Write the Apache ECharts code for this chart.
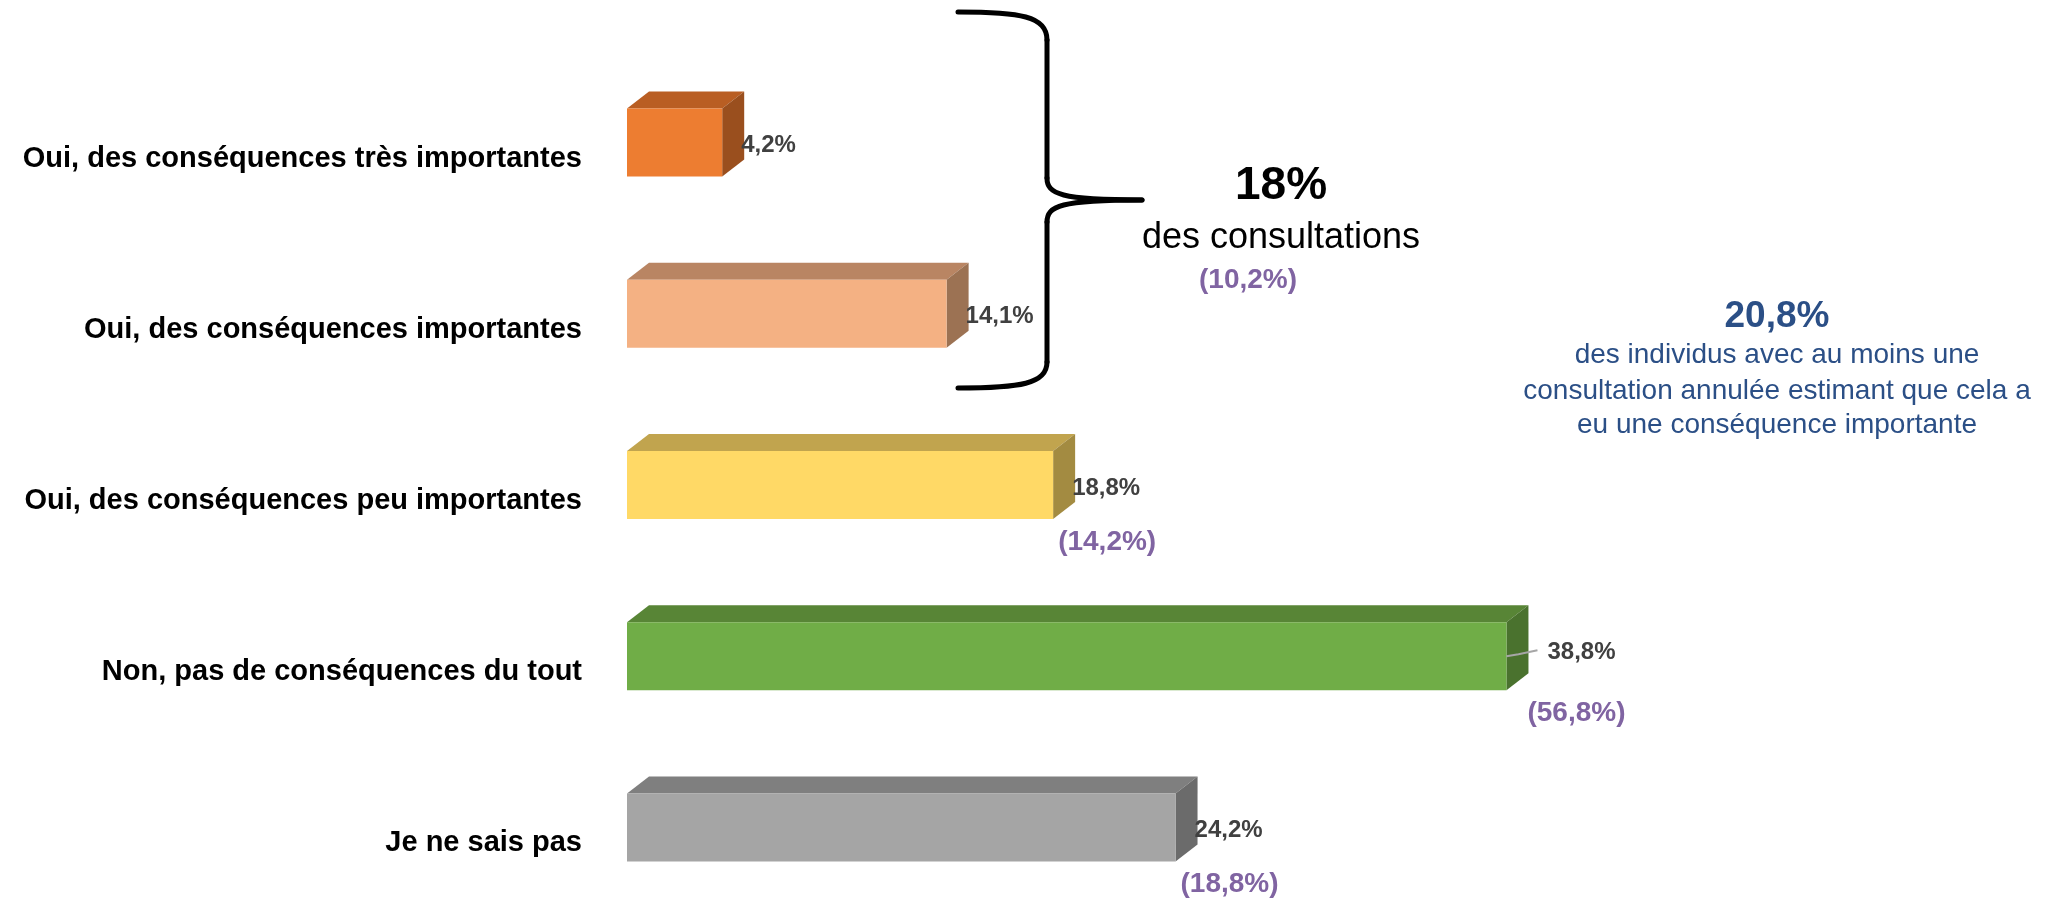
<!DOCTYPE html>
<html>
<head>
<meta charset="utf-8">
<script src="https://cdn.jsdelivr.net/npm/echarts@6/dist/echarts.min.js"></script>
<style>
  html, body { margin: 0; padding: 0; background: #fff; }
  #chart { width: 2051px; height: 900px; }
</style>
</head>
<body>
<div id="chart"></div>
<script>
// categories, top to bottom
var categories = [
  "Oui, des conséquences très importantes",
  "Oui, des conséquences importantes",
  "Oui, des conséquences peu importantes",
  "Non, pas de conséquences du tout",
  "Je ne sais pas"
]
// share of cancelled consultations (%)
var values = [4.2, 14.1, 18.8, 38.8, 24.2]
// figures in brackets (individuals), null where none shown next to the bar
var bracketValues = [null, null, 14.2, 56.8, 18.8]

// bar colours: front / top / side
var frontColors = ["#ED7D31", "#F4B183", "#FFD966", "#70AD47", "#A5A5A5"]
var topColors = ["#B95E23", "#B98563", "#C1A44E", "#588536", "#7F7F7F"]
var sideColors = ["#9A4F1E", "#9C7253", "#A38B41", "#4A722E", "#6B6B6B"]

var FONT = '"Liberation Sans", Arial, sans-serif'
var PURPLE = "#8064A2"
var BLUE = "#2B4F86"

function pct(v) {
  return v.toFixed(1).replace(".", ",") + "%"
}

var chart = echarts.init(document.getElementById("chart"))

function renderItem(params, api) {
  var i = api.value(0)
  var v = api.value(1)
  var start = api.coord([0, i])
  var end = api.coord([v, i])
  var cy = start[1]
  var x0 = start[0]
  var x1 = end[0]
  var top = cy - 50, bot = cy + 18
  var mid = (top + bot) / 2
  var dx = 22, dy = 17
  var children = [
    {
      type: "polygon",
      shape: { points: [[x0, top], [x0 + dx, top - dy], [x1 + dx, top - dy], [x1, top]] },
      style: { fill: topColors[i] }
    },
    {
      type: "polygon",
      shape: { points: [[x1, top], [x1 + dx, top - dy], [x1 + dx, bot - dy], [x1, bot]] },
      style: { fill: sideColors[i] }
    },
    {
      type: "rect",
      shape: { x: x0, y: top, width: x1 - x0, height: bot - top },
      style: { fill: frontColors[i] }
    }
  ]
  // the longest bar has its label pulled out with a leader line
  var lx = x1 + dx - 3, ly = mid + 3
  if (i === 3) {
    lx = x1 + 41
    ly = mid - 4
    children.push({
      type: "polyline",
      shape: { points: [[x1, mid], [x1 + 12, mid - 2], [x1 + 31, mid - 6]] },
      style: { stroke: "#A6A6A6", lineWidth: 2, fill: null }
    })
  }
  children.push({
    type: "text",
    style: {
      text: pct(v), x: lx, y: ly, fill: "#404040",
      fontSize: 24, fontWeight: "bold", fontFamily: FONT,
      align: "left", verticalAlign: "middle"
    }
  })
  var b = bracketValues[i]
  if (b != null) {
    children.push({
      type: "text",
      style: {
        text: "(" + pct(b) + ")", x: x1 + (i === 3 ? 21 : 5), y: cy + 41, fill: PURPLE,
        fontSize: 28, fontWeight: "bold", fontFamily: FONT,
        align: "left", verticalAlign: "middle"
      }
    })
  }
  return { type: "group", children: children }
}

var braceStyle = { stroke: "#000", lineWidth: 5, fill: null, lineCap: "round" }

function label(text, x, y, size, color, bold) {
  return {
    type: "text", x: x, y: y,
    style: {
      text: text, fill: color, fontSize: size, fontWeight: bold ? "bold" : "normal",
      fontFamily: FONT, align: "center", verticalAlign: "middle"
    }
  }
}

var option = {
  animation: false,
  backgroundColor: "#fff",
  // the last category band runs a little past the bottom edge
  grid: { left: 627, top: 73, bottom: -29, right: 64, outerBoundsMode: "none", containLabel: false },
  xAxis: { type: "value", min: 0, max: 60, show: false },
  yAxis: {
    type: "category",
    data: categories,
    inverse: true,
    axisLine: { show: false },
    axisTick: { show: false },
    splitLine: { show: false },
    axisLabel: {
      margin: 45,
      color: "#000",
      fontSize: 29,
      fontWeight: "bold",
      fontFamily: FONT
    }
  },
  series: [{
    type: "custom",
    renderItem: renderItem,
    encode: { x: 1, y: 0 },
    data: values.map(function (v, i) { return [i, v] }),
    clip: false
  }],
  graphic: [
    // curly brace grouping the first two answers
    { type: "bezierCurve", shape: { x1: 958, y1: 12, cpx1: 1020, cpy1: 12, cpx2: 1047, cpy2: 16, x2: 1047, y2: 40 }, style: braceStyle },
    { type: "line", shape: { x1: 1047, y1: 40, x2: 1047, y2: 178 }, style: braceStyle },
    { type: "bezierCurve", shape: { x1: 1047, y1: 178, cpx1: 1047, cpy1: 194, cpx2: 1060, cpy2: 200, x2: 1142, y2: 200 }, style: braceStyle },
    { type: "bezierCurve", shape: { x1: 1142, y1: 200, cpx1: 1060, cpy1: 200, cpx2: 1047, cpy2: 206, x2: 1047, y2: 222 }, style: braceStyle },
    { type: "line", shape: { x1: 1047, y1: 222, x2: 1047, y2: 362 }, style: braceStyle },
    { type: "bezierCurve", shape: { x1: 1047, y1: 362, cpx1: 1047, cpy1: 384, cpx2: 1020, cpy2: 388, x2: 958, y2: 388 }, style: braceStyle },
    label("18%", 1281, 186, 46, "#000", true),
    label("des consultations", 1281, 238, 36, "#000", false),
    label("(10,2%)", 1248, 280, 28, PURPLE, true),
    label("20,8%", 1777, 317, 37, BLUE, true),
    label("des individus avec au moins une", 1777, 355, 28, BLUE, false),
    label("consultation annulée estimant que cela a", 1777, 391, 28, BLUE, false),
    label("eu une conséquence importante", 1777, 425, 28, BLUE, false)
  ]
}
chart.setOption(option)
</script>
</body>
</html>
